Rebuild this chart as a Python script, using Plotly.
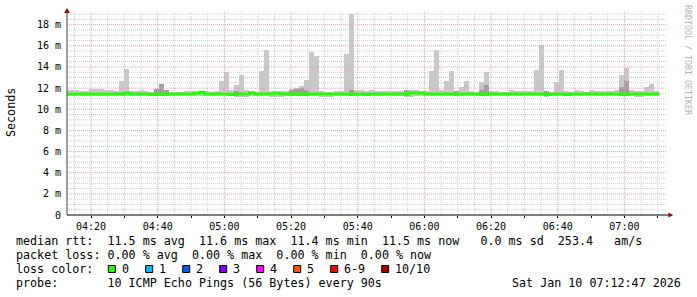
import plotly.graph_objects as go
import pandas as pd

# ---------------- data ----------------
step_start = "2026-01-10 04:12:00"   # first 90 s step
step_seconds = 90
view_start = "2026-01-10 04:12:47"
view_end = "2026-01-10 07:12:47"

# smoke (max ping) per 90 s step, ms
smoke_max = [11.85, 11.8, 11.85, 11.75, 11.75, 11.9, 11.9, 11.9, 11.85, 11.85,
             11.7, 12.7, 13.8, 11.7, 11.7, 11.85, 11.75, 11.6, 11.95, 12.4,
             11.8, 11.6, 11.6, 11.65, 11.7, 11.7, 11.6, 11.75, 11.7, 11.6,
             11.7, 12.7, 13.5, 11.85, 12.3, 13.2, 11.8, 11.7, 11.6, 13.65,
             15.6, 11.7, 11.65, 11.7, 11.7, 11.9, 12.05, 12.2, 12.8, 15.4,
             15.0, 11.7, 11.6, 11.6, 11.7, 11.75, 15.2, 19.0, 11.8, 11.8,
             11.75, 11.8, 11.7, 11.75, 11.75, 11.7, 11.75, 11.7, 11.85, 11.8,
             11.8, 11.75, 11.7, 13.65, 15.6, 11.8, 12.7, 13.65, 11.7, 12.1,
             12.7, 11.7, 11.65, 12.55, 13.55, 11.75, 11.7, 11.6, 11.65, 11.85,
             11.7, 11.75, 11.7, 11.7, 13.75, 16.05, 11.7, 11.65, 12.6, 13.75,
             11.7, 11.65, 11.85, 11.7, 11.65, 11.8, 11.7, 11.7, 11.75, 11.7,
             11.8, 13.2, 13.95, 11.8, 11.7, 11.7, 12.1, 12.35, 11.75]

# smoke (min ping) per step, ms
smoke_min = [11.25, 11.25, 11.25, 11.3, 11.25, 11.25, 11.3, 11.25, 11.25, 11.3,
             11.25, 11.25, 11.3, 11.25, 11.25, 11.3, 11.25, 11.25, 11.25, 11.3,
             11.25, 11.25, 11.3, 11.25, 11.25, 11.3, 11.3, 11.3, 11.25, 11.25,
             11.3, 11.25, 11.25, 11.25, 11.15, 11.15, 11.15, 11.25, 11.25, 11.3,
             11.25, 11.15, 11.15, 11.15, 11.25, 11.3, 11.25, 11.25, 11.3, 11.25,
             11.25, 11.15, 11.15, 11.15, 11.25, 11.3, 11.25, 11.25, 11.3, 11.25,
             11.25, 11.3, 11.25, 11.25, 11.3, 11.25, 11.25, 11.25, 11.15, 11.15,
             11.25, 11.3, 11.25, 11.25, 11.3, 11.25, 11.25, 11.3, 11.25, 11.25,
             11.3, 11.25, 11.25, 11.3, 11.25, 11.25, 11.3, 11.25, 11.25, 11.3,
             11.25, 11.25, 11.3, 11.25, 11.25, 11.3, 11.15, 11.25, 11.25, 11.3,
             11.25, 11.25, 11.3, 11.25, 11.25, 11.3, 11.25, 11.25, 11.3, 11.25,
             11.25, 11.25, 11.25, 11.3, 11.15, 11.15, 11.25, 11.25, 11.3]

# upper edge of the darker inner smoke band (None = hidden by median)
dark_top = [None] * 119
for k, v in [(18, 11.9), (19, 12.4), (20, 11.8), (34, 11.75), (45, 11.85),
             (46, 11.9), (47, 12.05), (48, 11.8), (57, 11.8), (68, 11.85),
             (78, 11.7), (83, 11.85), (84, 12.3), (96, 11.75), (111, 12.15),
             (112, 12.65)]:
    dark_top[k] = v

# median rtt per step, ms (all steps 0 % loss)
median = [11.45] * 119
for k, v in [(12, 11.55), (26, 11.55), (27, 11.6), (37, 11.55), (42, 11.55),
             (69, 11.55), (70, 11.55), (71, 11.55), (17, 11.4), (33, 11.4),
             (60, 11.4), (96, 11.4), (100, 11.4)]:
    median[k] = v

x_tick_times = ["04:20", "04:40", "05:00", "05:20", "05:40", "06:00", "06:20", "06:40", "07:00"]
y_tick_values = [0, 2, 4, 6, 8, 10, 12, 14, 16, 18]
y_tick_labels = ["0", "2 m", "4 m", "6 m", "8 m", "10 m", "12 m", "14 m", "16 m", "18 m"]

loss_labels = ["0", "1", "2", "3", "4", "5", "6-9", "10/10"]
loss_colors = ["#26ff00", "#00b8ff", "#0059ff", "#7e00ff", "#ff00ff", "#ff5500", "#ff0000", "#a10000"]

legend_lines = [
    "median rtt:  11.5 ms avg  11.6 ms max  11.4 ms min  11.5 ms now   0.0 ms sd  253.4   am/s",
    "packet loss: 0.00 % avg  0.00 % max  0.00 % min  0.00 % now",
    "loss color:",
    "probe:       10 ICMP Echo Pings (56 Bytes) every 90s",
]
date_text = "Sat Jan 10 07:12:47 2026"
watermark = "RRDTOOL / TOBI OETIKER"

# ---------------- figure ----------------
MONO = "DejaVu Sans Mono"
Y_TOP = 19.2
n = len(smoke_max)
t0 = pd.Timestamp(step_start)
starts = [t0 + pd.Timedelta(seconds=step_seconds * k) for k in range(n)]
centers = [s + pd.Timedelta(seconds=step_seconds / 2) for s in starts]
width_ms = step_seconds * 1000

fig = go.Figure()
fig.add_trace(go.Bar(x=centers, y=[h - l for h, l in zip(smoke_max, smoke_min)], base=smoke_min,
                     width=width_ms, marker=dict(color="#c8c8c8", line_width=0),
                     hoverinfo="skip", showlegend=False))
dk_x, dk_y, dk_b = [], [], []
for c, d, m in zip(centers, dark_top, median):
    if d is not None:
        dk_x.append(c); dk_b.append(m - 0.15); dk_y.append(d - (m - 0.15))
fig.add_trace(go.Bar(x=dk_x, y=dk_y, base=dk_b, width=width_ms,
                     marker=dict(color="#9e9e9e", line_width=0), hoverinfo="skip", showlegend=False))

# grid drawn over the smoke, under the median line
day = "2026-01-10 "
vmin_x, vmin_y, vmaj_x, vmaj_y = [], [], [], []
g = pd.Timestamp(day + "04:15")
while g <= pd.Timestamp(view_end):
    if g.minute % 20 == 0:
        vmaj_x += [g, g, None]; vmaj_y += [0, Y_TOP, None]
    else:
        vmin_x += [g, g, None]; vmin_y += [0, Y_TOP, None]
    g += pd.Timedelta(minutes=5)
hmin_x, hmin_y, hmaj_x, hmaj_y = [], [], [], []
for i in range(1, 39):
    v = i * 0.5
    if i % 4 == 0:
        hmaj_x += [view_start, view_end, None]; hmaj_y += [v, v, None]
    else:
        hmin_x += [view_start, view_end, None]; hmin_y += [v, v, None]
for gx, gy, col in [(vmin_x, vmin_y, "#cccccc"), (hmin_x, hmin_y, "#cccccc"),
                    (vmaj_x, vmaj_y, "#e8a4a4"), (hmaj_x, hmaj_y, "#e8a4a4")]:
    fig.add_trace(go.Scatter(x=gx, y=gy, mode="lines", line=dict(color=col, width=1, dash="1px,1px"),
                             hoverinfo="skip", showlegend=False, connectgaps=False))

line_x = starts + [starts[-1] + pd.Timedelta(seconds=step_seconds)]
line_y = median + [median[-1]]
fig.add_trace(go.Scatter(x=line_x, y=line_y, mode="lines", line=dict(color="#26ff00", width=3, shape="hv"),
                         hoverinfo="skip", showlegend=False))

shapes = []
# axes + arrows
shapes.append(dict(type="line", xref="paper", yref="paper", x0=0, x1=0, y0=0, y1=0.995, layer="above",
                   line=dict(color="#444444", width=1)))
shapes.append(dict(type="line", xref="paper", yref="paper", x0=0, x1=1.003, y0=0, y1=0, layer="above",
                   line=dict(color="#000000", width=1)))
shapes.append(dict(type="path", xref="paper", yref="paper", layer="above",
                   path="M -0.005,0.995 L 0.005,0.995 L 0,1.02 Z", fillcolor="#8b1010", line=dict(width=0)))
shapes.append(dict(type="path", xref="paper", yref="paper", layer="above",
                   path="M 1.0022,0.0123 L 1.0022,-0.0123 L 1.0105,0 Z", fillcolor="#8b1010", line=dict(width=0)))

# loss colour squares
PX = lambda p: (p - 67) / 600.0
PY = lambda p: (215 - p) / 203.0
sq_left = [108.3, 145.7, 182.7, 219.7, 256.7, 293.7, 330.7, 381.7]
annotations = []
for xl, col, lab in zip(sq_left, loss_colors, loss_labels):
    shapes.append(dict(type="rect", xref="paper", yref="paper", x0=PX(xl), x1=PX(xl + 7), y0=PY(265.5), y1=PY(272.5),
                       fillcolor=col, line=dict(color="#000000", width=1)))
    annotations.append(dict(xref="paper", yref="paper", x=PX(xl + 13.5), y=PY(268.7), text=lab, showarrow=False,
                            xanchor="left", yanchor="middle", borderpad=0, borderwidth=0,
                            font=dict(family=MONO, size=11.7, color="#000")))

for i, txt in enumerate(legend_lines):
    annotations.append(dict(xref="paper", yref="paper", x=PX(16), y=PY(241 + 13.9 * i), text=txt.replace(" ", "&nbsp;"),
                            showarrow=False, xanchor="left", yanchor="middle", borderpad=0, borderwidth=0,
                            font=dict(family=MONO, size=11.7, color="#000")))
annotations.append(dict(xref="paper", yref="paper", x=PX(681), y=PY(282.7), text=date_text.replace(" ", "&nbsp;"),
                        showarrow=False, xanchor="right", yanchor="middle", borderpad=0, borderwidth=0,
                        font=dict(family=MONO, size=11.7, color="#000")))
annotations.append(dict(xref="paper", yref="paper", x=PX(11), y=PY(113), text="Seconds", textangle=-90,
                        showarrow=False, xanchor="center", yanchor="middle", borderpad=0, borderwidth=0,
                        font=dict(family=MONO, size=11.7, color="#000")))
annotations.append(dict(xref="paper", yref="paper", x=PX(688), y=PY(60), text=watermark.replace(" ", "&nbsp;"),
                        textangle=90, showarrow=False, xanchor="center", yanchor="middle", borderpad=0, borderwidth=0,
                        font=dict(family=MONO, size=8.3, color="#b4b4b4")))

fig.update_layout(
    width=697, height=297, autosize=False,
    margin=dict(l=67, r=30, t=12, b=82, pad=0),
    paper_bgcolor="#ffffff", plot_bgcolor="#ffffff",
    barmode="overlay", bargap=0, showlegend=False,
    shapes=shapes, annotations=annotations,
    xaxis=dict(type="date", range=[view_start, view_end], showgrid=False, zeroline=False, showline=False,
               tickvals=[day + t for t in x_tick_times], ticktext=x_tick_times,
               ticks="outside", ticklen=2, tickcolor="#000",
               minor=dict(dtick=600000, tick0=day + "04:10", ticks="outside", ticklen=2, tickcolor="#000", showgrid=False),
               tickfont=dict(family=MONO, size=10, color="#000")),
    yaxis=dict(range=[0, Y_TOP], showgrid=False, zeroline=False, showline=False,
               tickvals=y_tick_values, ticktext=y_tick_labels, ticks="", ticklabelstandoff=5,
               tickfont=dict(family=MONO, size=10, color="#000")),
)
fig.write_html("out.html")
